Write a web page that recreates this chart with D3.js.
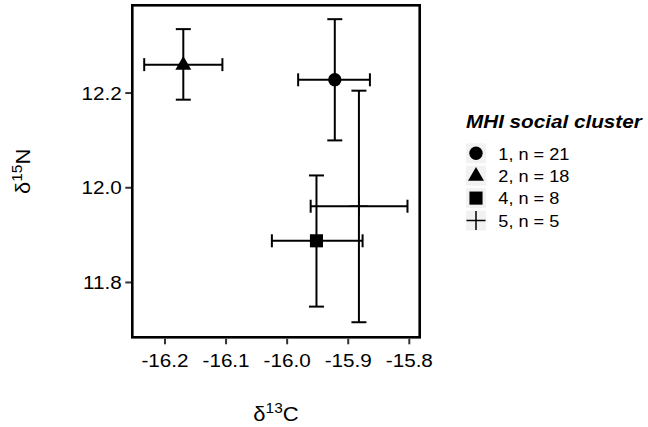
<!DOCTYPE html>
<html><head><meta charset="utf-8">
<script src="https://cdn.jsdelivr.net/npm/d3@7"></script>
<style>body{margin:0;background:#fff}svg{display:block}text{font-family:"Liberation Sans",Arial,sans-serif;fill:#000}</style>
</head><body><svg id="c" width="648" height="427"></svg>
<script>
const clusters = ["1, n = 21", "2, n = 18", "4, n = 8", "5, n = 5"];
const shapes = ["circle", "triangle", "square", "cross"];
const meanC = [-15.922, -16.170, -15.952, -15.8825];
const meanN = [12.228, 12.260, 11.888, 11.961];
const cLow  = [-15.982, -16.234, -16.025, -15.9615];
const cHigh = [-15.8645, -16.106, -15.8765, -15.803];
const nLow  = [12.100, 12.186, 11.749, 11.716];
const nHigh = [12.356, 12.335, 12.026, 12.205];
const xTicks = [-16.2, -16.1, -16.0, -15.9, -15.8];
const yTicks = [11.8, 12.0, 12.2];

const svg = d3.select("#c");
const P = {l:132.3, r:419.7, t:5.3, b:337.3};
const x = d3.scaleLinear().domain([-16.2535, -15.783]).range([P.l, P.r]);
const y = d3.scaleLinear().domain([11.6842, 12.3853]).range([P.b, P.t]);
const SX = 1.1;

function txt(g, tx, ty, s, size, anchor, extra) {
  const t = g.append("text").attr("transform", `translate(${tx},${ty}) scale(${SX},1)`)
    .attr("font-size", size).attr("text-anchor", anchor || "start").text(s);
  if (extra) extra(t);
  return t;
}

const data = clusters.map((c,i)=>({c, shape:shapes[i], mx:meanC[i], my:meanN[i], xl:cLow[i], xh:cHigh[i], yl:nLow[i], yh:nHigh[i]}));

// error bars
const eb = svg.append("g").attr("stroke", "#000").attr("stroke-width", 2).attr("fill", "none");
const vCap = 7.5, hCap = 6.5;
data.forEach(d => {
  eb.append("line").attr("x1", x(d.mx)).attr("x2", x(d.mx)).attr("y1", y(d.yl)).attr("y2", y(d.yh));
  eb.append("line").attr("x1", x(d.mx)-vCap).attr("x2", x(d.mx)+vCap).attr("y1", y(d.yl)).attr("y2", y(d.yl));
  eb.append("line").attr("x1", x(d.mx)-vCap).attr("x2", x(d.mx)+vCap).attr("y1", y(d.yh)).attr("y2", y(d.yh));
  eb.append("line").attr("x1", x(d.xl)).attr("x2", x(d.xh)).attr("y1", y(d.my)).attr("y2", y(d.my));
  eb.append("line").attr("x1", x(d.xl)).attr("x2", x(d.xl)).attr("y1", y(d.my)-hCap).attr("y2", y(d.my)+hCap);
  eb.append("line").attr("x1", x(d.xh)).attr("x2", x(d.xh)).attr("y1", y(d.my)-hCap).attr("y2", y(d.my)+hCap);
});

function drawShape(g, shape, cx, cy) {
  if (shape === "cross") {
    g.append("line").attr("x1", cx-9.5).attr("x2", cx+9.5).attr("y1", cy).attr("y2", cy).attr("stroke","#000").attr("stroke-width",1.5);
    g.append("line").attr("x1", cx).attr("x2", cx).attr("y1", cy-9.5).attr("y2", cy+9.5).attr("stroke","#000").attr("stroke-width",1.5);
    return;
  }
  const type = {circle:d3.symbolCircle, triangle:d3.symbolTriangle, square:d3.symbolSquare}[shape];
  const size = {circle:140, triangle:110, square:172}[shape];
  g.append("path").attr("d", d3.symbol(type, size)()).attr("transform", `translate(${cx},${cy + (shape==="triangle"?0.5:0)})`).attr("fill", "#000");
}
const pts = svg.append("g");
data.forEach(d => drawShape(pts, d.shape, x(d.mx), y(d.my)));

// panel border
svg.append("rect").attr("x", P.l).attr("y", P.t).attr("width", P.r-P.l).attr("height", P.b-P.t)
  .attr("fill", "none").attr("stroke", "#000").attr("stroke-width", 2.6);

// axes ticks
const ax = svg.append("g");
xTicks.forEach(v => {
  ax.append("line").attr("x1", x(v)).attr("x2", x(v)).attr("y1", P.b+1.3).attr("y2", P.b+7).attr("stroke", "#333").attr("stroke-width", 2);
  txt(ax, x(v), 366.5, d3.format(".1f")(v).replace("−","-"), 18.8, "middle");
});
yTicks.forEach(v => {
  ax.append("line").attr("x1", P.l-1.3).attr("x2", P.l-7).attr("y1", y(v)).attr("y2", y(v)).attr("stroke", "#333").attr("stroke-width", 2);
  txt(ax, 121.7, y(v)+6.6, d3.format(".1f")(v), 18.8, "end");
});

// axis titles
const xt = svg.append("text").attr("transform", `translate(${(P.l+P.r)/2},421) scale(${SX},1)`).attr("text-anchor","middle").attr("font-size", 20);
xt.append("tspan").text("δ");
xt.append("tspan").attr("font-size", 14).attr("dy", -8).text("13");
xt.append("tspan").attr("dy", 8).text("C");

const yt = svg.append("text").attr("transform", `translate(29.5,${(P.t+P.b)/2}) rotate(-90) scale(${SX},1)`).attr("text-anchor","middle").attr("font-size", 20);
yt.append("tspan").text("δ");
yt.append("tspan").attr("font-size", 14).attr("dy", -8).text("15");
yt.append("tspan").attr("dy", 8).text("N");

// legend
const lg = svg.append("g");
txt(lg, 466, 128.3, "MHI social cluster", 18.8, "start", t => t.attr("font-weight","bold").attr("font-style","italic"));
const rowY = [153.3, 175.7, 198.1, 220.5];
data.forEach((d,i) => {
  lg.append("rect").attr("x", 466).attr("y", rowY[i]-10).attr("width", 20).attr("height", 20).attr("fill", "#f2f2f2");
  drawShape(lg, d.shape, 476, rowY[i]);
  txt(lg, 498.3, rowY[i]+6.2, d.c, 16.5, "start");
});
</script></body></html>
